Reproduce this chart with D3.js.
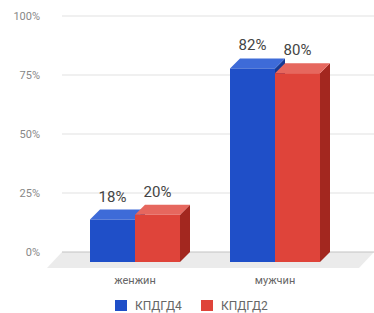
<!DOCTYPE html>
<html>
<head>
<meta charset="utf-8">
<script src="https://cdn.jsdelivr.net/npm/d3@7"></script>
<style>
body{margin:0;background:#fff;}
text{font-family:Roboto,"Noto Sans",sans-serif;}
</style>
</head>
<body>
<div id="chart"></div>
<script>
var categories = ["женжин","мужчин"]
var seriesNames = ["КПДГД4","КПДГД2"]
var kpdgd4 = [18,82]
var kpdgd2 = [20,80]
var yTicks = [0,25,50,75,100]

var W = 374, H = 313
var depth = {dx:10, dy:10}
var colors = [
	{front:"#1f4fc8", top:"#3e6bd8", side:"#163a94"},
	{front:"#df443a", top:"#e6675e", side:"#a3271f"}
]

var svg = d3.select("#chart").append("svg")
	.attr("width",W)
	.attr("height",H)

var y = d3.scaleLinear().domain([0,100]).range([252,16])
var x0 = d3.scalePoint().domain(categories).range([75,355]).padding(0.5)
var x1 = d3.scaleBand().domain(seriesNames).range([-45,45])

// floor
svg.append("path")
	.attr("d","M62,"+y(0)+"L374,"+y(0)+"L359,"+(y(0)+16)+"L47,"+(y(0)+16)+"Z")
	.attr("fill","#ebebeb")

// grid
svg.selectAll(".grid")
	.data(yTicks)
	.enter()
	.append("line")
	.attr("x1",62).attr("x2",W)
	.attr("y1",function(d){ return y(d) }).attr("y2",function(d){ return y(d) })
	.attr("stroke",function(d){ return d==0 ? "#c4c4c4" : "#e2e2e2" })
	.attr("stroke-width",1.2)

svg.selectAll(".ytick")
	.data(yTicks)
	.enter()
	.append("text")
	.attr("x",40)
	.attr("y",function(d){ return y(d)+4 })
	.attr("text-anchor","end")
	.attr("font-size",11)
	.attr("fill","#888")
	.text(function(d){ return d+"%" })

var data = categories.map(function(c,i){
	return {cat:c, vals:[{s:seriesNames[0],v:kpdgd4[i],k:0},{s:seriesNames[1],v:kpdgd2[i],k:1}]}
})

data.forEach(function(g){
	g.vals.forEach(function(d){
		var bx = x0(g.cat)+x1(d.s), bw = x1.bandwidth()
		var fx = bx-depth.dx, ftop = y(d.v)+depth.dy, fbot = y(0)+depth.dy
		var c = colors[d.k]
		// side
		svg.append("path")
			.attr("d","M"+(fx+bw)+","+ftop+"L"+(bx+bw)+","+y(d.v)+"L"+(bx+bw)+","+y(0)+"L"+(fx+bw)+","+fbot+"Z")
			.attr("fill",c.side)
		// top
		svg.append("path")
			.attr("d","M"+fx+","+ftop+"L"+bx+","+y(d.v)+"L"+(bx+bw)+","+y(d.v)+"L"+(fx+bw)+","+ftop+"Z")
			.attr("fill",c.top)
		// front
		svg.append("rect")
			.attr("x",fx).attr("y",ftop)
			.attr("width",bw).attr("height",fbot-ftop)
			.attr("fill",c.front)
		svg.append("text")
			.attr("x",fx+bw/2)
			.attr("y",y(d.v)-8)
			.attr("text-anchor","middle")
			.attr("font-size",15)
			.attr("fill","#444")
			.text(d.v+"%")
	})
})

svg.selectAll(".cat")
	.data(categories)
	.enter()
	.append("text")
	.attr("x",function(d){ return x0(d)-depth.dx })
	.attr("y",284)
	.attr("text-anchor","middle")
	.attr("font-size",11)
	.attr("fill","#666")
	.text(function(d){ return d })

var legend = svg.selectAll(".leg")
	.data(seriesNames)
	.enter()
	.append("g")
	.attr("transform",function(d,i){ return "translate("+(115+i*86)+",300)" })
legend.append("rect")
	.attr("width",12).attr("height",11)
	.attr("fill",function(d,i){ return colors[i].front })
legend.append("text")
	.attr("x",20).attr("y",10)
	.attr("font-size",12)
	.attr("fill","#666")
	.text(function(d){ return d })
</script>
</body>
</html>
